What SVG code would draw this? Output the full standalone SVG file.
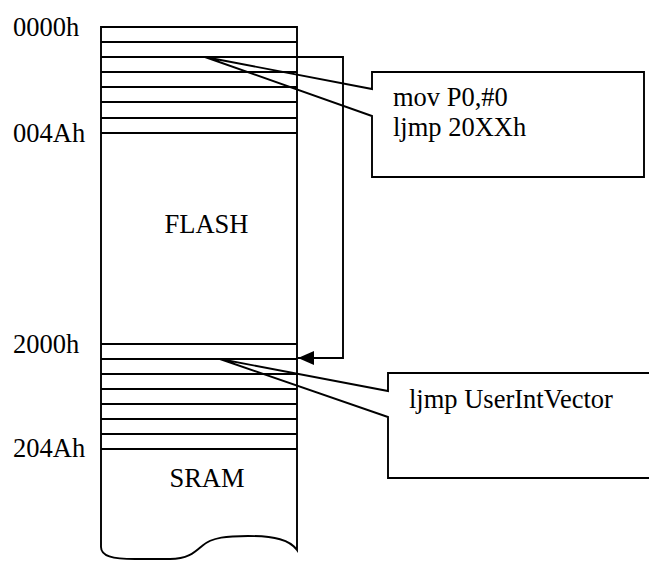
<svg xmlns="http://www.w3.org/2000/svg" width="649" height="561" viewBox="0 0 649 561">
<style>
text{font-family:"Liberation Serif","Times New Roman",serif;font-size:26.5px;fill:#000}
.ln{stroke:#000;stroke-width:1.9;fill:none}
.row{stroke:#000;stroke-width:1.9}
</style>
<defs>
<marker id="ah" viewBox="0 0 16 14" refX="16" refY="7" markerWidth="16" markerHeight="14" markerUnits="userSpaceOnUse" orient="auto">
<path d="M0,0 L16,7 L0,14 Z" fill="#000"/>
</marker>
</defs>
<rect width="649" height="561" fill="#fff"/>
<g id="memory">
<path class="ln" fill="#fff" d="M101,27 H297 V550 C290,540 275,536 248,536 C228,536 212,537 202,546 C195,552 188,559 170,559 L135,559 C112,559 101,556 101,547 Z"/>
<g class="row">
<line x1="101" y1="42" x2="297" y2="42"/>
<line x1="101" y1="57" x2="297" y2="57"/>
<line x1="101" y1="72" x2="297" y2="72"/>
<line x1="101" y1="87" x2="297" y2="87"/>
<line x1="101" y1="102" x2="297" y2="102"/>
<line x1="101" y1="118" x2="297" y2="118"/>
<line x1="101" y1="133" x2="297" y2="133"/>
<line x1="101" y1="344" x2="297" y2="344"/>
<line x1="101" y1="359" x2="297" y2="359"/>
<line x1="101" y1="374" x2="297" y2="374"/>
<line x1="101" y1="389" x2="297" y2="389"/>
<line x1="101" y1="404" x2="297" y2="404"/>
<line x1="101" y1="419" x2="297" y2="419"/>
<line x1="101" y1="434" x2="297" y2="434"/>
<line x1="101" y1="449" x2="297" y2="449"/>
</g>
<text x="206.5" y="233" text-anchor="middle">FLASH</text>
<text x="207" y="487" text-anchor="middle">SRAM</text>
</g>
<g id="addresses">
<text x="13" y="36">0000h</text>
<text x="13" y="142">004Ah</text>
<text x="13" y="353">2000h</text>
<text x="13" y="457">204Ah</text>
</g>
<g id="connectors">
<polyline class="ln" points="297,57 343,57 343,358 298,358" marker-end="url(#ah)"/>
</g>
<g id="callout1">
<path class="ln" d="M372,89 V72 H644 V177 H372 V116 L205,57 Z"/>
<text x="393" y="106">mov P0,#0</text>
<text x="393" y="136">ljmp 20XXh</text>
</g>
<g id="callout2">
<path class="ln" d="M388,391 V373 H660 V478 H388 V417 L220,359 Z"/>
<text x="409" y="408">ljmp UserIntVector</text>
</g>
</svg>
